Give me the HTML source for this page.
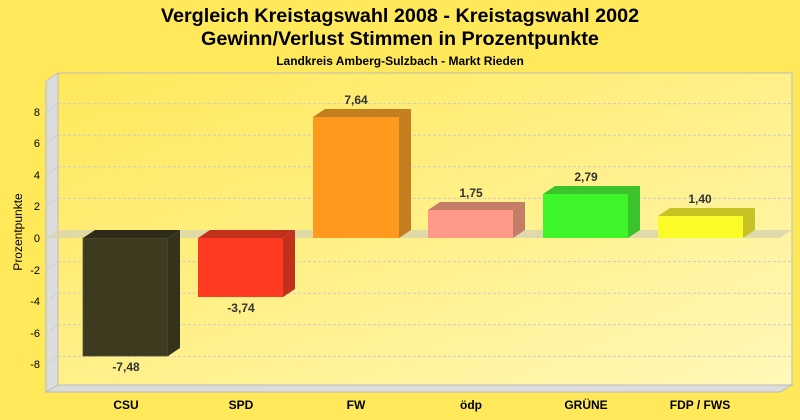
<!DOCTYPE html>
<html><head><meta charset="utf-8"><style>
html,body{margin:0;padding:0;width:800px;height:420px;overflow:hidden;background:#ffe95a}
svg{display:block;font-family:"Liberation Sans",Arial,sans-serif}
</style></head><body>
<svg width="800" height="420" viewBox="0 0 800 420" xmlns="http://www.w3.org/2000/svg">
<defs>
<linearGradient id="wall" x1="0" y1="0" x2="1" y2="1">
<stop offset="0" stop-color="#ffe85a"/><stop offset="1" stop-color="#fff8b8"/>
</linearGradient>
</defs>
<rect width="800" height="420" fill="#ffe95a"/>
<text x="400" y="22" text-anchor="middle" font-size="19.8" font-weight="bold">Vergleich Kreistagswahl 2008 - Kreistagswahl 2002</text>
<text x="400" y="45" text-anchor="middle" font-size="19.8" font-weight="bold">Gewinn/Verlust Stimmen in Prozentpunkte</text>
<text x="400" y="65" text-anchor="middle" font-size="12" font-weight="bold">Landkreis Amberg-Sulzbach - Markt Rieden</text>
<rect x="58" y="73" width="734" height="312" fill="url(#wall)" stroke="#bbb" stroke-width="1"/>
<polygon points="46,81 58,73 58,385 46,392" fill="#dcdcdc" stroke="#bbb" stroke-width="1"/>
<polygon points="46,392 58,385 792,385 780,392" fill="#dcdcdc" stroke="#bbb" stroke-width="1"/>
<g stroke="#ccc" stroke-dasharray="3,2" stroke-width="1">
<line x1="58" y1="103.6" x2="792" y2="103.6"/>
<line x1="58" y1="135.2" x2="792" y2="135.2"/>
<line x1="58" y1="166.8" x2="792" y2="166.8"/>
<line x1="58" y1="198.4" x2="792" y2="198.4"/>
<line x1="58" y1="261.6" x2="792" y2="261.6"/>
<line x1="58" y1="293.2" x2="792" y2="293.2"/>
<line x1="58" y1="324.8" x2="792" y2="324.8"/>
<line x1="58" y1="356.4" x2="792" y2="356.4"/>
<line x1="46" y1="112" x2="58" y2="104"/>
<line x1="46" y1="143" x2="58" y2="135"/>
<line x1="46" y1="175" x2="58" y2="167"/>
<line x1="46" y1="206" x2="58" y2="198"/>
<line x1="46" y1="270" x2="58" y2="262"/>
<line x1="46" y1="301" x2="58" y2="293"/>
<line x1="46" y1="333" x2="58" y2="325"/>
<line x1="46" y1="364" x2="58" y2="356"/>
</g>
<polygon points="46,238 58,230 792,230 780,238" fill="#d8d4b0" opacity="0.8"/>
<g font-size="11" text-anchor="end">
<text x="40" y="116">8</text><text x="40" y="147">6</text><text x="40" y="179">4</text><text x="40" y="210">2</text>
<text x="40" y="242">0</text><text x="40" y="274">-2</text><text x="40" y="305">-4</text><text x="40" y="337">-6</text><text x="40" y="368">-8</text>
</g>
<text transform="translate(22,232) rotate(-90)" text-anchor="middle" font-size="12">Prozentpunkte</text>
<rect x="83" y="238" width="85" height="118" fill="#3d3a20" stroke="#5a5530" stroke-width="0.8"/>
<polygon points="83,238 95,230 180,230 168,238" fill="#2e2c18"/>
<polygon points="168,238 180,230 180,348 168,356" fill="#35321b"/>
<rect x="198" y="238" width="85" height="59" fill="#ff3a22"/>
<polygon points="198,238 210,230 295,230 283,238" fill="#c2301c"/>
<polygon points="283,238 295,230 295,289 283,297" fill="#c2301c"/>
<rect x="313" y="117" width="86" height="121" fill="#ff9a1f"/>
<polygon points="313,117 325,109 411,109 399,117" fill="#c47e1f"/>
<polygon points="399,117 411,109 411,230 399,238" fill="#c47e1f"/>
<rect x="428" y="210" width="85" height="28" fill="#ff9a88"/>
<polygon points="428,210 440,202 525,202 513,210" fill="#c47e68"/>
<polygon points="513,210 525,202 525,230 513,238" fill="#c47e68"/>
<rect x="543" y="194" width="85" height="44" fill="#3ef52a"/>
<polygon points="543,194 555,186 640,186 628,194" fill="#3cc22a"/>
<polygon points="628,194 640,186 640,230 628,238" fill="#3cc22a"/>
<rect x="658" y="216" width="85" height="22" fill="#fbfb28"/>
<polygon points="658,216 670,208 755,208 743,216" fill="#c8c324"/>
<polygon points="743,216 755,208 755,230 743,238" fill="#c8c324"/>
<g font-size="12" font-weight="bold" fill="#333" text-anchor="middle">
<text x="126" y="371">-7,48</text>
<text x="241" y="312">-3,74</text>
<text x="356" y="104">7,64</text>
<text x="471" y="197">1,75</text>
<text x="586" y="181">2,79</text>
<text x="700" y="203">1,40</text>
</g>
<g font-size="12" font-weight="bold" text-anchor="middle">
<text x="126" y="409">CSU</text>
<text x="241" y="409">SPD</text>
<text x="356" y="409">FW</text>
<text x="471" y="409">ödp</text>
<text x="586" y="409">GRÜNE</text>
<text x="700" y="409">FDP / FWS</text>
</g>
</svg>
</body></html>
